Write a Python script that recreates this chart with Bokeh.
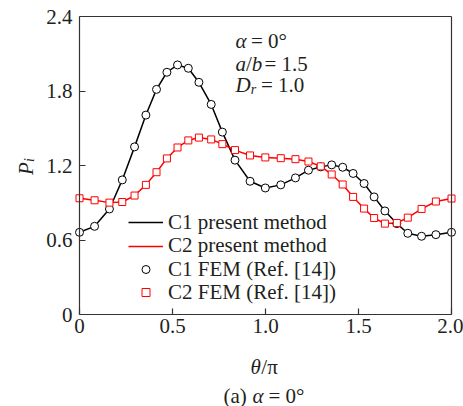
import math
from bokeh.plotting import figure
from bokeh.models import (Range1d, FixedTicker, Label, Legend, LegendItem,
                          LinearAxis)
from bokeh.embed import file_html
from bokeh.resources import INLINE

# ---- data ----
theta = [0.0, 0.081, 0.161, 0.230, 0.296, 0.357, 0.414, 0.470, 0.527, 0.585,
         0.642, 0.708, 0.768, 0.836, 0.917, 0.999, 1.082, 1.161, 1.231, 1.297,
         1.356, 1.415, 1.471, 1.530, 1.584, 1.642, 1.706, 1.765, 1.839, 1.916, 2.0]
c1 = [0.662, 0.710, 0.850, 1.084, 1.350, 1.606, 1.813, 1.951, 2.010, 1.983,
      1.870, 1.692, 1.469, 1.243, 1.073, 1.019, 1.044, 1.100, 1.162, 1.189,
      1.205, 1.186, 1.136, 1.055, 0.947, 0.834, 0.732, 0.654, 0.630, 0.643, 0.662]
c2 = [0.936, 0.920, 0.901, 0.906, 0.958, 1.044, 1.146, 1.257, 1.345, 1.402,
      1.425, 1.410, 1.372, 1.324, 1.281, 1.265, 1.259, 1.251, 1.232, 1.193,
      1.128, 1.047, 0.947, 0.853, 0.777, 0.732, 0.737, 0.780, 0.850, 0.910, 0.934]
x_ticks = [0, 0.5, 1.0, 1.5, 2.0]
x_tick_labels = ["0", "0.5", "1.0", "1.5", "2.0"]
y_ticks = [0, 0.6, 1.2, 1.8, 2.4]
y_tick_labels = ["0", "0.6", "1.2", "1.8", "2.4"]
series_labels = ["C1 present method", "C2 present method",
                 "C1 FEM (Ref. [14])", "C2 FEM (Ref. [14])"]

FONT = "Liberation Serif"
FS = "21px"
TXT = "#231f20"
AX = "#333333"

W, H = 463, 406
# plot box position in canvas pixels
BL, BR, BT, BB = 79, 451, 16, 314
xmin, xmax = x_ticks[0], x_ticks[-1]
ymin, ymax = y_ticks[0], y_ticks[-1]
sx = (BR - BL) / (xmax - xmin)
sy = (BB - BT) / (ymax - ymin)
x_range = Range1d(xmin - BL / sx, xmax + (W - BR) / sx)
y_range = Range1d(ymin - (H - BB) / sy, ymax + BT / sy)

p = figure(width=W, height=H, output_backend="svg", toolbar_location=None,
           x_range=x_range, y_range=y_range, title=None,
           x_axis_location=None, y_axis_location=None, min_border=0)
p.grid.visible = False
p.outline_line_color = None
p.background_fill_color = "white"
p.border_fill_color = "white"

xax = LinearAxis(fixed_location=ymin, bounds=(xmin, xmax))
yax = LinearAxis(fixed_location=xmin, bounds=(ymin, ymax))
p.add_layout(xax, "below")
p.add_layout(yax, "left")
xax.ticker = FixedTicker(ticks=x_ticks)
xax.major_label_overrides = dict(zip(x_ticks, x_tick_labels))
yax.ticker = FixedTicker(ticks=y_ticks)
yax.major_label_overrides = dict(zip(y_ticks, y_tick_labels))
for ax in (xax, yax):
    ax.major_tick_in = 6
    ax.major_tick_out = 0
    ax.minor_tick_line_color = None
    ax.axis_line_color = AX
    ax.axis_line_width = 1.2
    ax.major_tick_line_color = AX
    ax.major_tick_line_width = 1.2
    ax.major_label_text_font = FONT
    ax.major_label_text_font_size = FS
    ax.major_label_text_color = TXT
xax.major_label_standoff = 4
yax.major_label_standoff = 7

# top and right border of the plot box
tax = LinearAxis(fixed_location=ymax, bounds=(xmin, xmax))
rax = LinearAxis(fixed_location=xmax, bounds=(ymin, ymax))
p.add_layout(tax, "above")
p.add_layout(rax, "right")
for ax in (tax, rax):
    ax.ticker = FixedTicker(ticks=[])
    ax.major_tick_line_color = None
    ax.minor_tick_line_color = None
    ax.major_label_text_color = None
    ax.axis_line_color = AX
    ax.axis_line_width = 1.2

l1 = p.line(theta, c1, line_color="black", line_width=1.5)
l2 = p.line(theta, c2, line_color="#ff0000", line_width=1.5)
s1 = p.scatter(theta, c1, marker="circle", size=8, fill_color="white",
               line_color="black", line_width=1)
s2 = p.scatter(theta, c2, marker="square", size=7, fill_color="white",
               line_color="#ff0000", line_width=1)

# one legend per row so that the row pitch matches the reference
row_centers = [222, 245.5, 269, 292]  # canvas px
for lbl, rend, cy in zip(series_labels, [l1, l2, s1, s2], row_centers):
    lg = Legend(items=[LegendItem(label=lbl, renderers=[rend])],
                location=(128, H - (cy + 12.5)), padding=0, margin=0,
                spacing=0, glyph_width=35, glyph_height=20, label_height=20,
                label_standoff=5, border_line_color=None,
                background_fill_alpha=0,
                label_text_font=FONT, label_text_font_size=FS,
                label_text_color=TXT)
    p.add_layout(lg)


def lab(text, cx, cy, style="normal", size=FS, angle=0.0, align="left"):
    p.add_layout(Label(x=cx, y=H - cy, x_units="screen", y_units="screen",
                       text=text, text_font=FONT, text_font_size=size,
                       text_font_style=style, text_color=TXT, angle=angle,
                       text_align=align, text_baseline="alphabetic"))


# annotations
lab("\u03b1", 235, 40, "italic")
lab("= 0\u00b0", 250.5, 40)
lab("a", 235, 63.3, "italic")
lab("/", 245.5, 63.3)
lab("b", 251.3, 63.3, "italic")
lab("= 1.5", 264, 63.3)
lab("D", 235, 84.3, "italic")
lab("r", 250.2, 88.5, "italic", size="14px")
lab("= 1.0", 260.5, 84.3)

# x label
lab("\u03b8", 250, 366, "italic")
lab("/\u03c0", 260.8, 366)
# caption
lab("(a)", 223, 395)
lab("\u03b1", 252, 395, "italic")
lab("= 0\u00b0", 268, 395)
# y label (rotated)
lab("P", 25, 174.5, "italic", angle=math.pi / 2)
lab("i", 29, 161.5, "italic", size="14px", angle=math.pi / 2)

open("out.html", "w").write(file_html(p, INLINE))
